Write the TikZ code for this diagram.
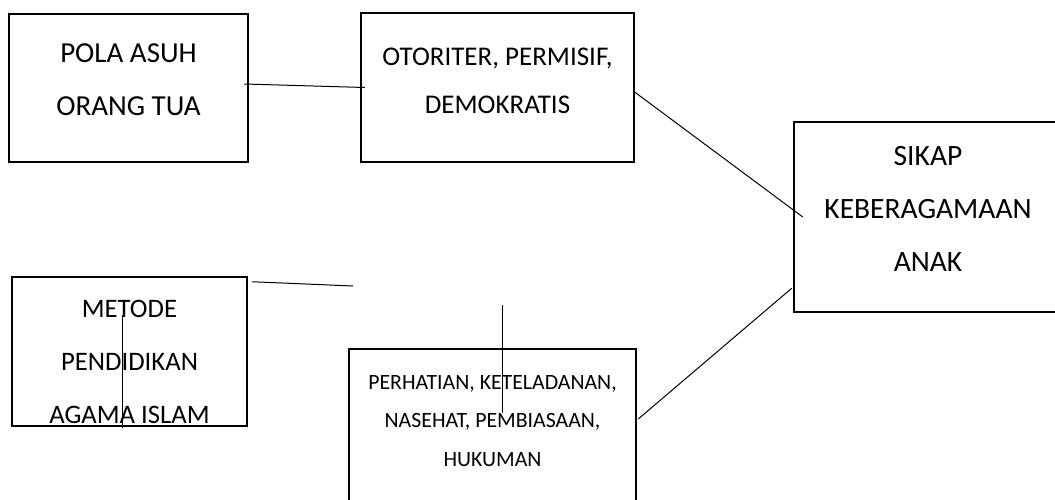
\documentclass[tikz,border=0pt]{standalone}
\usepackage{fontspec}
\setmainfont{Carlito}
\begin{document}
\begin{tikzpicture}[x=1pt, y=-1pt,
    box/.style={draw, line width=2.5pt, inner sep=0pt},
    big/.style={align=center, font=\fontsize{#1}{53}\selectfont},
    big/.default=27,
    small/.style={align=center, font=\fontsize{21.8}{38.5}\selectfont},
    link/.style={line width=1pt}]
    \useasboundingbox (0,0) rectangle (1055,500);

    \node (pola) at (128.5,88) [box, minimum width=239pt, minimum height=148pt,
      label={[big=29, yshift=8.5pt]center:{POLA ASUH\\ORANG TUA}}] {};

    \node (otoriter) at (497.5,87.5) [box, minimum width=273pt, minimum height=149pt,
      label={[align=center, font=\fontsize{27}{48}\selectfont, yshift=7pt]center:{OTORITER, PERMISIF,\\DEMOKRATIS}}] {};
    \draw[link] ([shift={(-5,-4)}]pola.east) -- ([xshift=5pt]otoriter.west);

    % kotak kanan terpotong tepi gambar
    \node (sikap) at (1000,217) [inner sep=0pt, minimum width=412pt, minimum height=190pt,
      label={[big=29.5, xshift=-72pt, yshift=8pt]center:{SIKAP\\KEBERAGAMAAN\\ANAK}}] {};
    \draw[line width=2.5pt] (sikap.north east) -- (sikap.north west) -- (sikap.south west) -- (sikap.south east);
    \draw[link] ([shift={(-2,3.5)}]otoriter.east) -- ([xshift=9pt]sikap.west);

    \node (metode) at (129.5,351.5) [box, minimum width=235pt, minimum height=149pt,
      label={[big=26.7, yshift=-10.5pt]center:{METODE\\PENDIDIKAN\\AGAMA ISLAM}}] {};
    \coordinate (ujung) at (353,286);
    \draw[link] ([shift={(4,6)}]metode.north east) -- (ujung);

    \node (perhatian) at (492.5,434.5) [box, minimum width=287pt, minimum height=171pt,
      label={[small, yshift=13.5pt]center:{PERHATIAN, KETELADANAN,\\NASEHAT, PEMBIASAAN,\\HUKUMAN}}] {};
    \draw[link] ([shift={(1,-15.5)}]perhatian.east) -- ([shift={(-2,-24)}]sikap.south west);

    % garis tegak
    \coordinate (v1a) at (122,315);
    \coordinate (v1b) at (122,428);
    \draw[link] (v1a) -- (v1b);
    \coordinate (v2a) at (502,305);
    \coordinate (v2b) at (502,413);
    \draw[link] (v2a) -- (v2b);
\end{tikzpicture}
\end{document}
